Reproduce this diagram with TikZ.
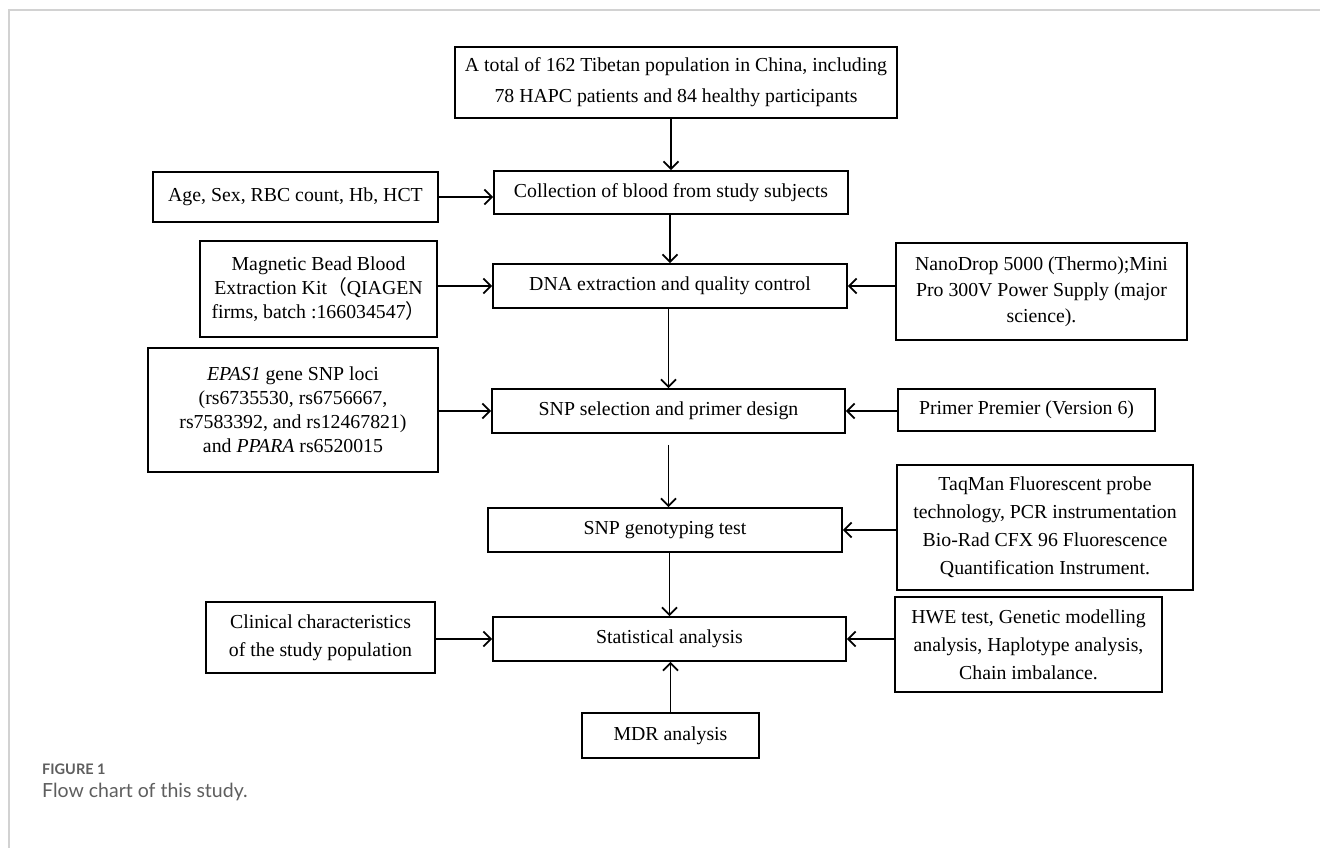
\documentclass[tikz,border=0pt]{standalone}
\usepackage{fontspec}
\setmainfont{Liberation Serif}
\newfontfamily\cjk{Noto Sans CJK SC}
\newfontfamily\capfont{Lato}
\usetikzlibrary{arrows.meta}
\definecolor{framegray}{HTML}{D2D2D2}
\definecolor{capgray}{HTML}{5E5E5E}
\begin{document}
\begin{tikzpicture}[x=1pt,y=-1pt,
  box/.style={draw, line width=1.8pt, inner sep=0pt, align=center,
    font=\fontsize{19.8}{26}\selectfont},
  tight/.style={font=\fontsize{19.8}{24}\selectfont},
  loose/.style={font=\fontsize{19.8}{28}\selectfont},
  arr/.style={line width=1.8pt, -{Straight Barb[length=7.5pt,width=15pt,line width=1.8pt]}},
  framel/.style={draw=framegray, line width=2pt}]
\useasboundingbox (0,0) rectangle (1320,848);
\draw[framel] (1320,10) -- (9,10) -- (9,848);

\node[box, font=\fontsize{19.8}{31}\selectfont, minimum width=442pt, minimum height=71pt] (top) at (676,82.5)
  {A total of 162 Tibetan population in China, including\\78 HAPC patients and 84 healthy participants};
\node[box, minimum width=354pt, minimum height=43pt] (coll) at (671,192.5)
  {Collection of blood from study subjects};
\node[box, minimum width=285pt, minimum height=50pt] (age) at (295.5,197)
  {Age, Sex, RBC count, Hb, HCT};
\node[box, minimum width=354pt, minimum height=44pt] (dna) at (670,286)
  {DNA extraction and quality control};
\node[box, tight, minimum width=237pt, minimum height=96pt] (mag) at (318.5,289)
  {Magnetic Bead Blood\\Extraction Kit{\cjk （}QIAGEN\\firms, batch :166034547{\cjk ）}};
\node[box, minimum width=291pt, minimum height=97pt] (nano) at (1041.5,291.5)
  {NanoDrop 5000 (Thermo);Mini\\Pro 300V Power Supply (major\\science).};
\node[box, minimum width=353pt, minimum height=44pt] (snpsel) at (668.5,411)
  {SNP selection and primer design};
\node[box, tight, minimum width=290pt, minimum height=124pt] (epas) at (293,410)
  {\textit{EPAS1} gene SNP loci\\(rs6735530, rs6756667,\\rs7583392, and rs12467821)\\and \textit{PPARA} rs6520015};
\node[box, minimum width=257pt, minimum height=42pt] (primer) at (1026.5,410)
  {Primer Premier (Version 6)};
\node[box, minimum width=354pt, minimum height=44pt] (geno) at (665,530)
  {SNP genotyping test};
\node[box, loose, minimum width=296pt, minimum height=125pt] (taq) at (1045,527.5)
  {TaqMan Fluorescent probe\\technology, PCR instrumentation\\Bio-Rad CFX 96 Fluorescence\\Quantification Instrument.};
\node[box, minimum width=353pt, minimum height=44pt] (stat) at (669.5,639)
  {Statistical analysis};
\node[box, loose, minimum width=229pt, minimum height=71pt] (clin) at (320.5,637.5)
  {Clinical characteristics\\of the study population};
\node[box, loose, minimum width=267pt, minimum height=95pt] (hwe) at (1028.5,644.5)
  {HWE test, Genetic modelling\\analysis, Haplotype analysis,\\Chain imbalance.};
\node[box, minimum width=177pt, minimum height=45pt] (mdr) at (670.5,735.5)
  {MDR analysis};

% vertical connectors
\draw[arr] (coll.north |- top.south) -- (coll.north);
\draw[arr] (coll.south -| dna.north) -- (dna.north);
\draw[arr] (dna.south -| snpsel.north) -- (snpsel.north);
\draw[arr, shorten <=11pt] (snpsel.south) -- (snpsel.south |- geno.north);
\draw[arr] (geno.south -| stat.north) -- (stat.north);
\draw[arr] (mdr.north) -- (mdr.north |- stat.south);

% horizontal connectors
\draw[arr] (age.east) -- (age.east -| coll.west);
\draw[arr] (mag.east |- dna.west) -- (dna.west);
\draw[arr] (nano.west |- dna.east) -- (dna.east);
\draw[arr] (epas.east |- snpsel.west) -- (snpsel.west);
\draw[arr] (primer.west |- snpsel.east) -- (snpsel.east);
\draw[arr] (taq.west |- geno.east) -- (geno.east);
\draw[arr] (clin.east |- stat.west) -- (stat.west);
\draw[arr] (hwe.west |- stat.east) -- (stat.east);

% caption
\node[anchor=base west, inner sep=0pt, text=capgray,
  font=\capfont\bfseries\fontsize{14.5}{16}\selectfont] (fig) at (42,774) {FIGURE 1};
\node[anchor=base west, inner sep=0pt, text=capgray,
  font=\capfont\fontsize{19.5}{21}\selectfont] (figcap) at (42,797) {Flow chart of this study.};
\end{tikzpicture}
\end{document}
